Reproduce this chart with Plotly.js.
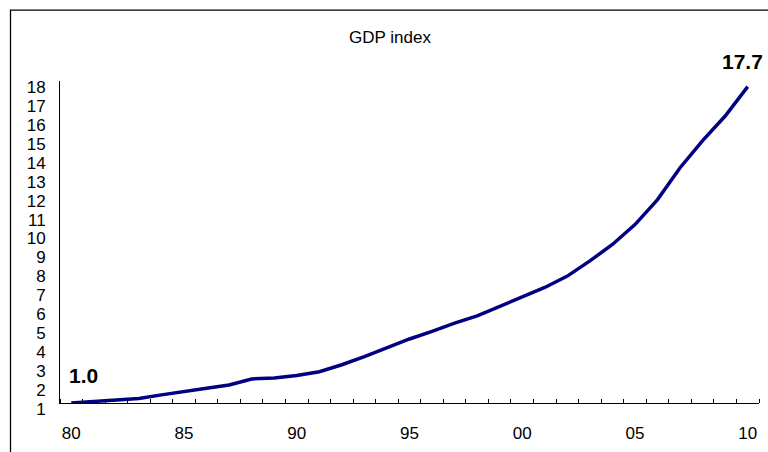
<!DOCTYPE html>
<html>
<head>
<meta charset="utf-8">
<script src="https://cdn.plot.ly/plotly-3.0.1.min.js"></script>
<style>
  html, body { margin: 0; padding: 0; background: #fff; }
  #chart { width: 768px; height: 452px; }
</style>
</head>
<body>
<div id="chart"></div>
<script>
// GDP index, 1980 = 1.0
const years = [1980, 1981, 1982, 1983, 1984, 1985, 1986, 1987, 1988, 1989,
               1990, 1991, 1992, 1993, 1994, 1995, 1996, 1997, 1998, 1999,
               2000, 2001, 2002, 2003, 2004, 2005, 2006, 2007, 2008, 2009, 2010];
const gdpIndex = [1.0, 1.07, 1.14, 1.24, 1.43, 1.62, 1.78, 1.95, 2.27, 2.32,
                  2.45, 2.65, 3.02, 3.45, 3.9, 4.38, 4.78, 5.22, 5.6, 6.1,
                  6.62, 7.1, 7.7, 8.5, 9.37, 10.42, 11.74, 13.42, 14.85, 16.15, 17.7];
const yTicks = [1, 2, 3, 4, 5, 6, 7, 8, 9, 10, 11, 12, 13, 14, 15, 16, 17, 18];

// category positions, with a two-digit year label every five years
const pos = years.map((_, i) => i);
const labelPos = pos.filter(i => years[i] % 5 === 0);
const labelText = labelPos.map(i => String(years[i] % 100).padStart(2, '0'));
const last = years.length - 1;

const font = 'Liberation Sans, Arial, sans-serif';

const trace = {
  x: pos,
  y: gdpIndex,
  type: 'scatter',
  mode: 'lines',
  line: { color: '#000080', width: 3.5 },
  hoverinfo: 'skip'
};

const layout = {
  width: 768,
  height: 452,
  margin: { l: 60, r: 9, t: 81, b: 48.5, pad: 0 },
  paper_bgcolor: '#fff',
  plot_bgcolor: '#fff',
  showlegend: false,
  font: { family: font, color: '#000', size: 17 },
  title: {
    text: 'GDP index',
    font: { family: font, size: 17, color: '#000' },
    x: 390 / 768, xref: 'container', xanchor: 'center',
    y: 1 - 37 / 452, yref: 'container', yanchor: 'middle'
  },
  xaxis: {
    range: [-0.5, last + 0.5],
    tickmode: 'array',
    tickvals: labelPos,
    ticktext: labelText,
    ticks: '',
    showgrid: false,
    zeroline: false,
    showline: true,
    linecolor: '#000',
    linewidth: 1,
    ticklabelstandoff: 15,
    tickfont: { family: font, size: 17, color: '#000' },
    minor: { tick0: -0.5, dtick: 1, ticks: 'inside', ticklen: 4, tickcolor: '#000', tickwidth: 1, showgrid: false },
    fixedrange: true
  },
  yaxis: {
    range: [1, 18],
    tickmode: 'array',
    tickvals: yTicks,
    ticktext: yTicks.map(String),
    ticks: '',
    showgrid: false,
    zeroline: false,
    showline: true,
    linecolor: '#000',
    linewidth: 1,
    ticklabelshift: 6,
    ticklabelstandoff: 10,
    tickfont: { family: font, size: 17, color: '#000' },
    fixedrange: true
  },
  shapes: [{
    type: 'rect', xref: 'paper', yref: 'paper',
    x0: (10.5 - 60) / 699, x1: (775 - 60) / 699,
    y0: (403.5 - 10) / 322.5, y1: (403.5 - 470) / 322.5,
    line: { color: '#000', width: 1.3 },
    fillcolor: 'rgba(0,0,0,0)',
    layer: 'above'
  }],
  annotations: [
    {
      x: last, y: gdpIndex[last], xref: 'x', yref: 'y',
      text: gdpIndex[last].toFixed(1), showarrow: false,
      font: { family: font, size: 21, color: '#000', weight: 'bold' },
      xanchor: 'center', yanchor: 'middle', xshift: -5, yshift: 25
    },
    {
      x: 0, y: gdpIndex[0], xref: 'x', yref: 'y',
      text: gdpIndex[0].toFixed(1), showarrow: false,
      font: { family: font, size: 21, color: '#000', weight: 'bold' },
      xanchor: 'center', yanchor: 'middle', xshift: 12, yshift: 28
    }
  ]
};

Plotly.newPlot('chart', [trace], layout, { displayModeBar: false, staticPlot: true });
</script>
</body>
</html>
